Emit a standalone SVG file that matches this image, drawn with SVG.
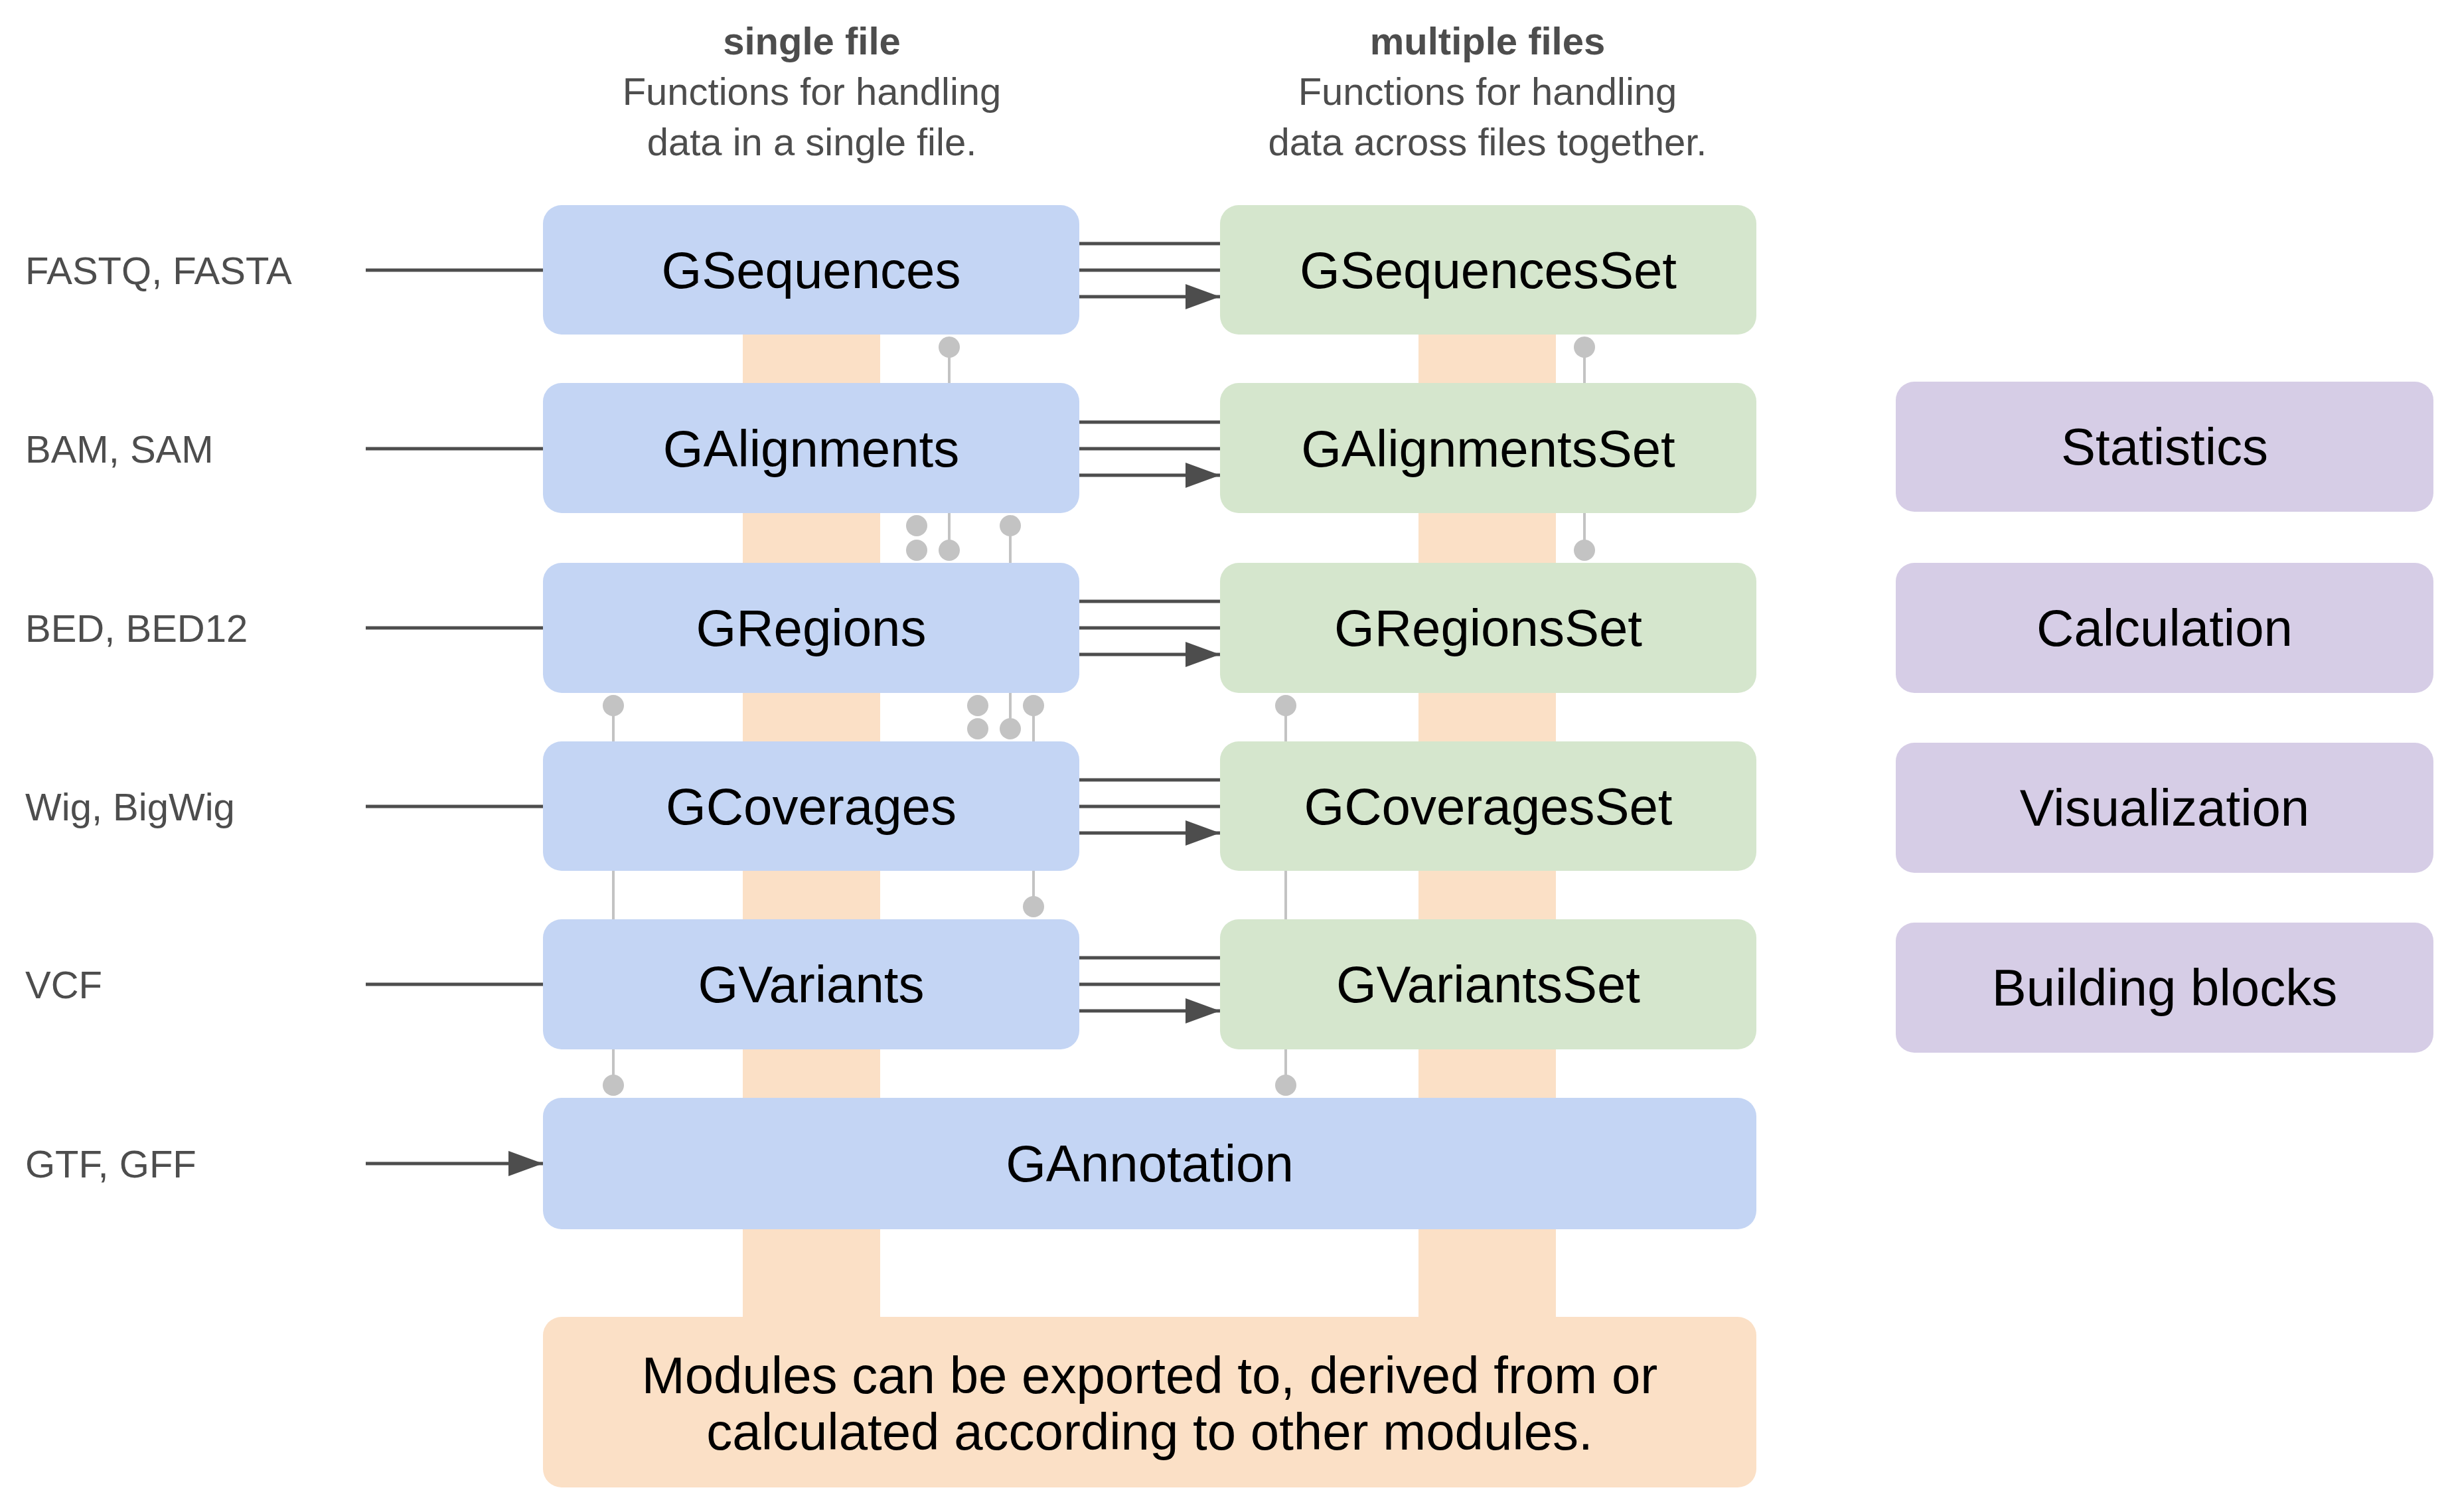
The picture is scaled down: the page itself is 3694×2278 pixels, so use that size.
<svg xmlns="http://www.w3.org/2000/svg" width="3694" height="2278" viewBox="0 0 3694 2278">
<defs>
<style>
.b{fill:#c4d5f4}.g{fill:#d5e6cd}.p{fill:#d6cde6}.o{fill:#fbe0c6}
.nt{font-family:"Liberation Sans",Arial,sans-serif;font-size:78px;fill:#000;text-anchor:middle;dominant-baseline:central}
.lb{font-family:"Liberation Sans",Arial,sans-serif;font-size:58px;fill:#4d4d4d;dominant-baseline:central}
.hd{font-family:"Liberation Sans",Arial,sans-serif;font-size:58px;fill:#4d4d4d;text-anchor:middle}
.ar{stroke:#4d4d4d;stroke-width:5;fill:none;marker-end:url(#ah)}
.cl{stroke:#c3c3c3;stroke-width:4;fill:none}
.dt{fill:#c3c3c3}
</style>
<marker id="ah" markerUnits="userSpaceOnUse" markerWidth="52" markerHeight="38" refX="52" refY="19" orient="auto"><path d="M0,0 L52,19 L0,38 Z" fill="#4d4d4d"/></marker>
</defs>
<rect width="3694" height="2278" fill="#fff"/>
<g id="strips">
<rect class="o" x="1119" y="500" width="207" height="1490"/>
<rect class="o" x="2137" y="500" width="207" height="1490"/>
</g>
<g id="headers">
<text class="hd" x="1223" y="82" font-weight="bold">single file</text>
<text class="hd" x="1223" y="158">Functions for handling</text>
<text class="hd" x="1223" y="234">data in a single file.</text>
<text class="hd" x="2241" y="82" font-weight="bold">multiple files</text>
<text class="hd" x="2241" y="158">Functions for handling</text>
<text class="hd" x="2241" y="234">data across files together.</text>
</g>
<g id="labels">
<text class="lb" x="38" y="407">FASTQ, FASTA</text>
<text class="lb" x="38" y="676">BAM, SAM</text>
<text class="lb" x="38" y="946">BED, BED12</text>
<text class="lb" x="38" y="1215">Wig, BigWig</text>
<text class="lb" x="38" y="1483">VCF</text>
<text class="lb" x="38" y="1753">GTF, GFF</text>
</g>
<g id="connectors">
<path class="ar" d="M551,407H818M551,676H818M551,946H818M551,1215H818M551,1483H818M551,1753H818"/>
<path class="ar" d="M1626,367H1838M1626,407H1838M1626,447H1838"/>
<path class="ar" d="M1626,636H1838M1626,676H1838M1626,716H1838"/>
<path class="ar" d="M1626,906H1838M1626,946H1838M1626,986H1838"/>
<path class="ar" d="M1626,1175H1838M1626,1215H1838M1626,1255H1838"/>
<path class="ar" d="M1626,1443H1838M1626,1483H1838M1626,1523H1838"/>
<path class="cl" d="M1430,523V577M2387,523V577M1430,773V829M1522,792V848M2387,773V829M924,1063V1117M1522,1044V1098M1557,1063V1117M1937,1063V1117M924,1312V1385M1557,1312V1366M1937,1312V1385M924,1581V1635M1937,1581V1635"/>
<g class="dt">
<circle cx="1430" cy="523" r="16"/><circle cx="2387" cy="523" r="16"/>
<circle cx="1381" cy="792" r="16"/><circle cx="1381" cy="829" r="16"/><circle cx="1430" cy="829" r="16"/><circle cx="1522" cy="792" r="16"/><circle cx="2387" cy="829" r="16"/>
<circle cx="924" cy="1063" r="16"/><circle cx="1473" cy="1063" r="16"/><circle cx="1473" cy="1098" r="16"/><circle cx="1522" cy="1098" r="16"/><circle cx="1557" cy="1063" r="16"/><circle cx="1937" cy="1063" r="16"/>
<circle cx="1557" cy="1366" r="16"/>
<circle cx="924" cy="1635" r="16"/><circle cx="1937" cy="1635" r="16"/>
</g>
</g>
<g id="GSequences"><rect class="b" x="818" y="309" width="808" height="195" rx="28"/><text class="nt" x="1222" y="407">GSequences</text></g>
<g id="GAlignments"><rect class="b" x="818" y="577" width="808" height="196" rx="28"/><text class="nt" x="1222" y="676">GAlignments</text></g>
<g id="GRegions"><rect class="b" x="818" y="848" width="808" height="196" rx="28"/><text class="nt" x="1222" y="946">GRegions</text></g>
<g id="GCoverages"><rect class="b" x="818" y="1117" width="808" height="195" rx="28"/><text class="nt" x="1222" y="1215">GCoverages</text></g>
<g id="GVariants"><rect class="b" x="818" y="1385" width="808" height="196" rx="28"/><text class="nt" x="1222" y="1483">GVariants</text></g>
<g id="GAnnotation"><rect class="b" x="818" y="1654" width="1828" height="198" rx="28"/><text class="nt" x="1732" y="1753">GAnnotation</text></g>
<g id="GSequencesSet"><rect class="g" x="1838" y="309" width="808" height="195" rx="28"/><text class="nt" x="2242" y="407">GSequencesSet</text></g>
<g id="GAlignmentsSet"><rect class="g" x="1838" y="577" width="808" height="196" rx="28"/><text class="nt" x="2242" y="676">GAlignmentsSet</text></g>
<g id="GRegionsSet"><rect class="g" x="1838" y="848" width="808" height="196" rx="28"/><text class="nt" x="2242" y="946">GRegionsSet</text></g>
<g id="GCoveragesSet"><rect class="g" x="1838" y="1117" width="808" height="195" rx="28"/><text class="nt" x="2242" y="1215">GCoveragesSet</text></g>
<g id="GVariantsSet"><rect class="g" x="1838" y="1385" width="808" height="196" rx="28"/><text class="nt" x="2242" y="1483">GVariantsSet</text></g>
<g id="Statistics"><rect class="p" x="2856" y="575" width="810" height="196" rx="28"/><text class="nt" x="3261" y="673">Statistics</text></g>
<g id="Calculation"><rect class="p" x="2856" y="848" width="810" height="196" rx="28"/><text class="nt" x="3261" y="946">Calculation</text></g>
<g id="Visualization"><rect class="p" x="2856" y="1119" width="810" height="196" rx="28"/><text class="nt" x="3261" y="1217">Visualization</text></g>
<g id="BuildingBlocks"><rect class="p" x="2856" y="1390" width="810" height="196" rx="28"/><text class="nt" x="3261" y="1488">Building blocks</text></g>
<g id="Modules"><rect class="o" x="818" y="1984" width="1828" height="257" rx="28"/>
<text class="nt" x="1732" y="2072" font-size="66">Modules can be exported to, derived from or</text>
<text class="nt" x="1732" y="2157" font-size="66">calculated according to other modules.</text></g>
</svg>
